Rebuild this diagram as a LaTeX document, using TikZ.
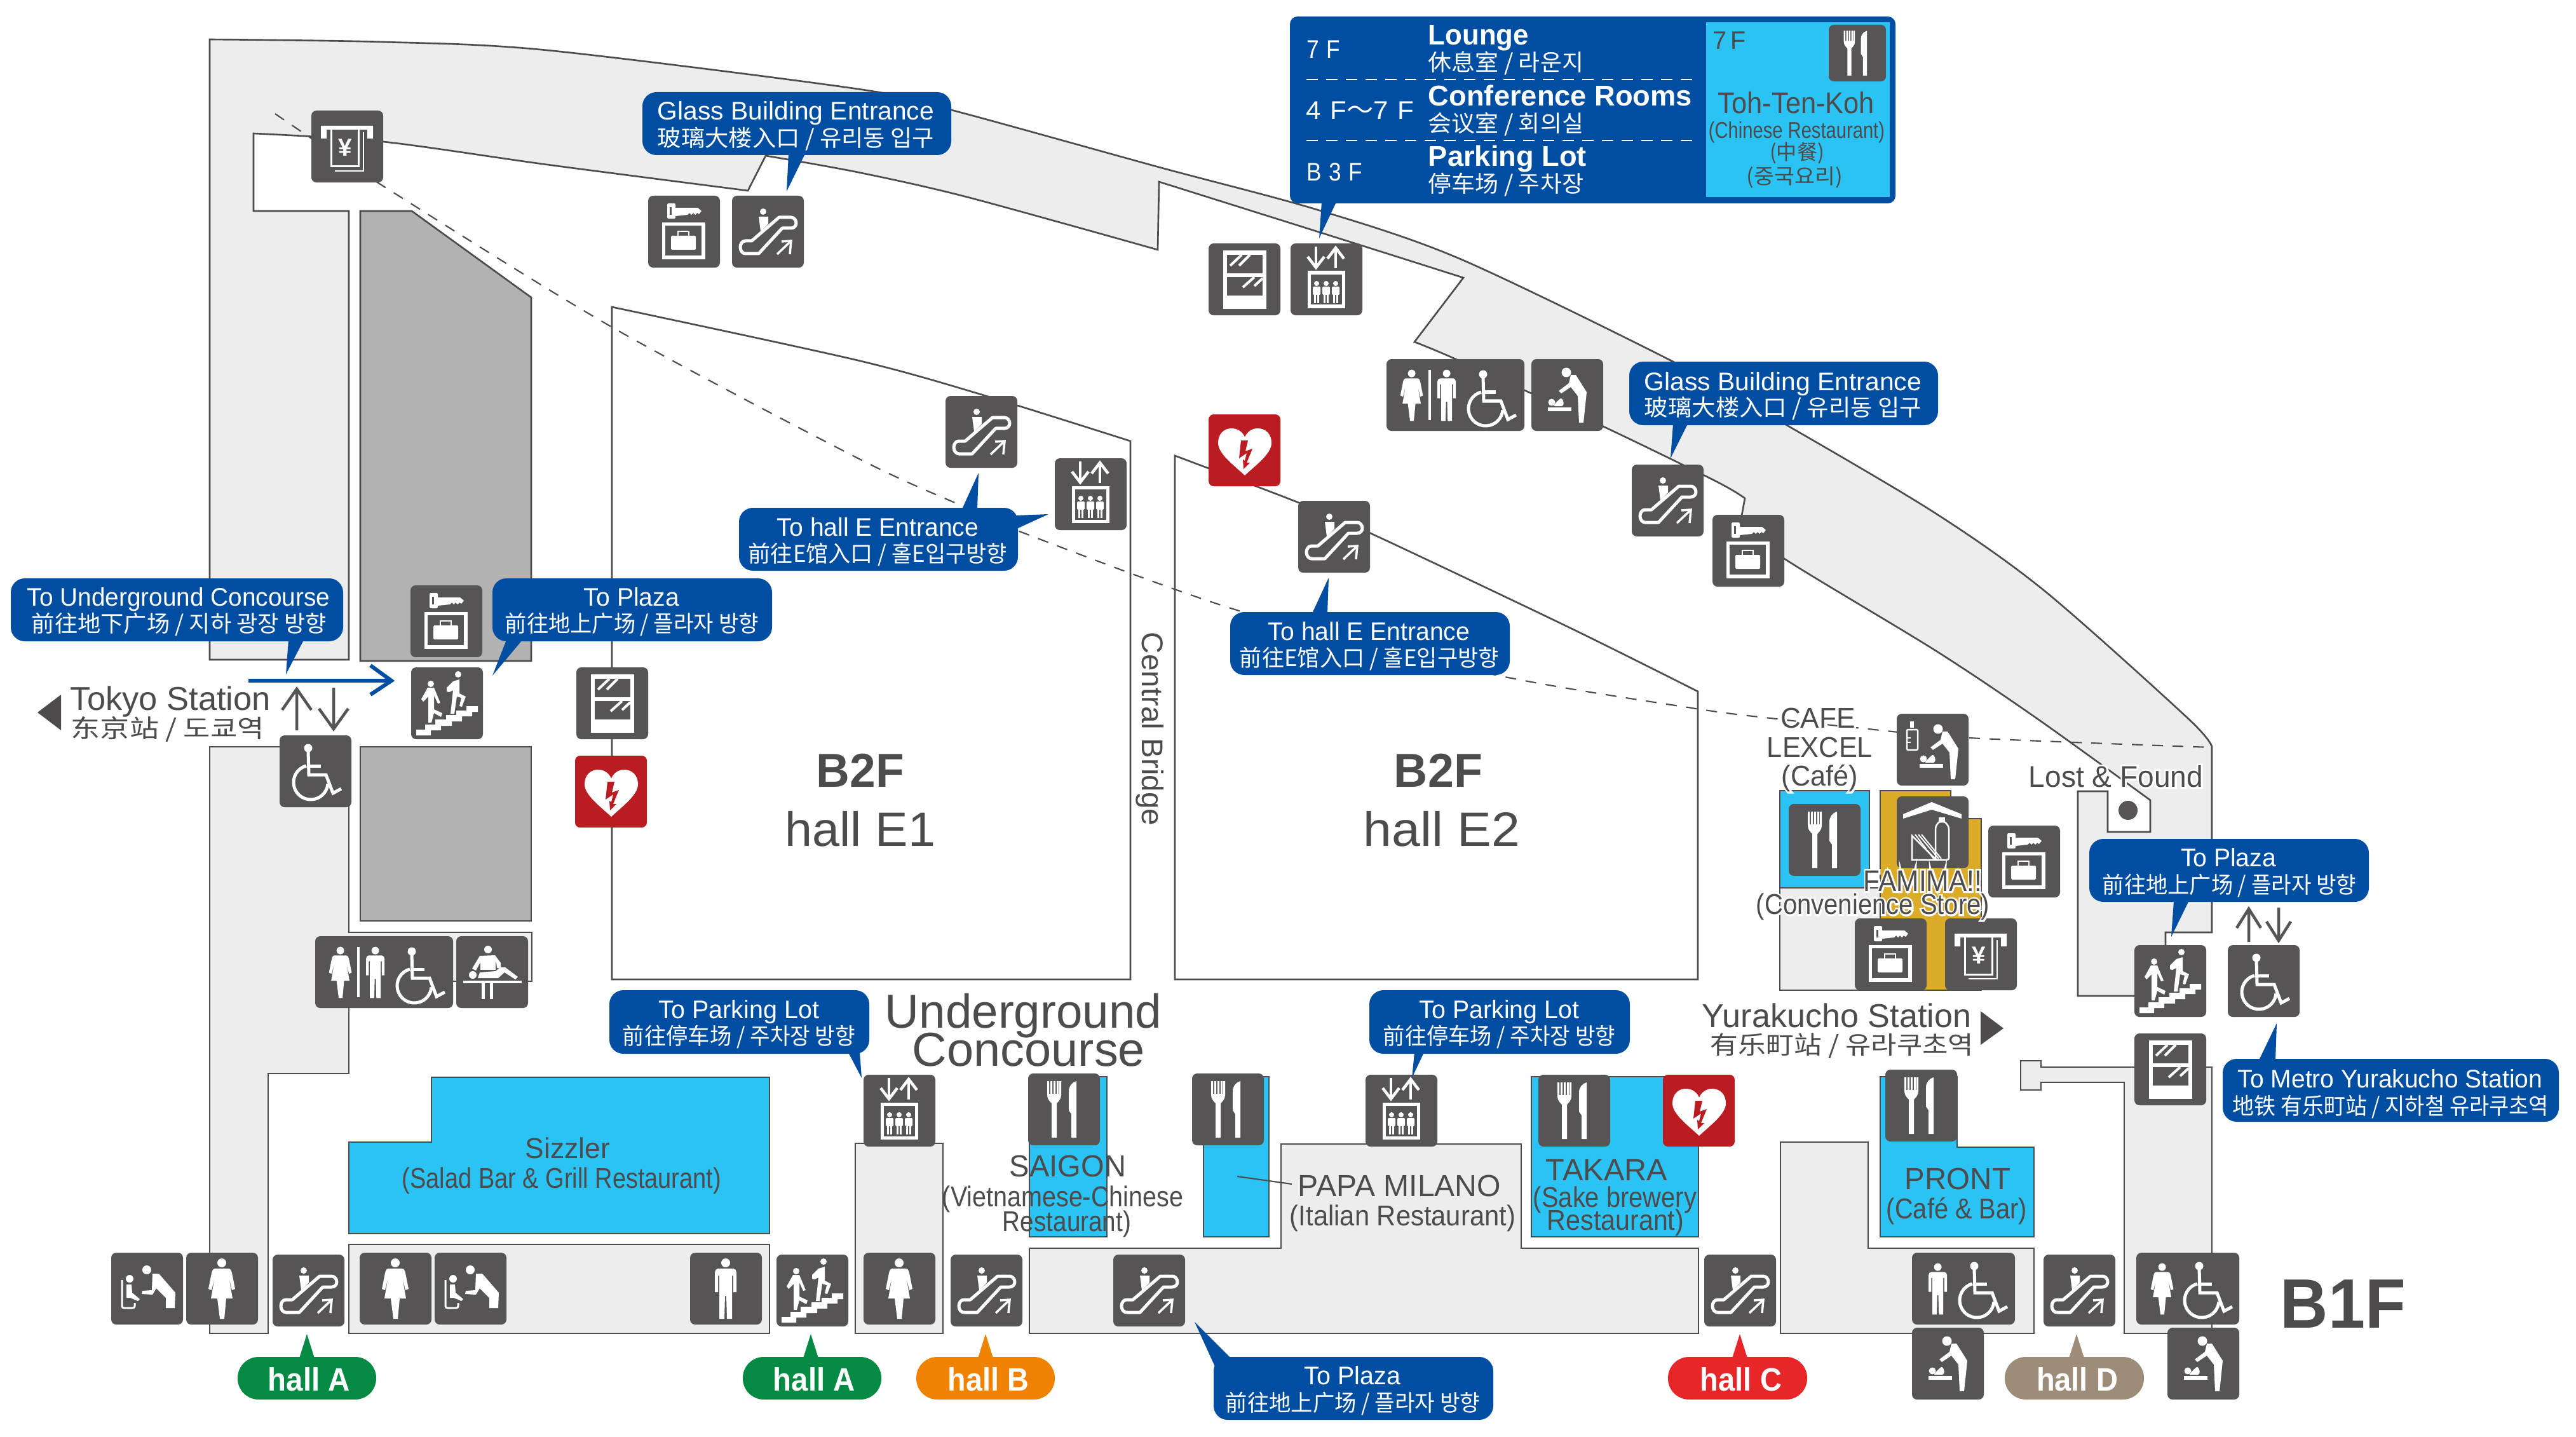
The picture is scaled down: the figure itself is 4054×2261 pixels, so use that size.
\documentclass[tikz,border=0pt]{standalone}
\usepackage{fontspec}
\usepackage{graphicx}
\setmainfont{Liberation Sans}
\newfontfamily\cjk{Noto Sans CJK SC}
\newfontfamily\halofont[FakeBold=12]{Liberation Sans}
\definecolor{ink}{HTML}{4D4B4B}
\definecolor{icn}{HTML}{565455}
\definecolor{wallfill}{HTML}{EDEDED}
\definecolor{blockfill}{HTML}{B2B2B2}
\definecolor{cyanfill}{HTML}{2BC3F4}
\definecolor{goldfill}{HTML}{DCAC28}
\definecolor{cbl}{HTML}{004EA2}
\definecolor{aedred}{HTML}{BB1C21}
\definecolor{pillA}{HTML}{058A44}
\definecolor{pillB}{HTML}{EF8200}
\definecolor{pillC}{HTML}{E8262A}
\definecolor{pillD}{HTML}{9D8D78}
\newsavebox\fitbox
\newdimen\fitd
\newcommand\fitw[3]{\pgfmathsetmacro\fsz{#2*0.28453}\sbox\fitbox{\fontsize{\fsz pt}{\fsz pt}\selectfont #3}\fitd=\wd\fitbox\pgfmathsetmacro\fitr{(#1*0.28453)/\fitd}\scalebox{\fitr}[1]{\usebox\fitbox}}
\tikzset{
 x=0.01cm,y=-0.01cm,
 lab/.style={anchor=base,inner sep=0pt,outer sep=0pt,text=ink},
 wall/.style={fill=wallfill,draw=ink,line width=0.75pt,line join=miter},
 plainwall/.style={fill=white,draw=ink,line width=0.75pt},
 blockst/.style={fill=blockfill,draw=ink,line width=0.75pt},
 shopst/.style={fill=cyanfill,draw=ink,line width=0.75pt},
 goldst/.style={fill=goldfill,draw=ink,line width=0.75pt},
 dashst/.style={draw=ink,line width=0.6pt,dash pattern=on 0.17cm off 0.15cm},
 ibox/.style={fill=icn,rounded corners=0.08cm,inner sep=0pt,outer sep=0pt,anchor=north west,minimum height=1.13cm},
 wln/.style={draw=white,line width=0.05cm},
 wth/.style={draw=white,line width=0.035cm},
 calbg/.style={fill=cbl,rounded corners=0.22cm},
 grarrow/.style={draw=icn,line width=0.045cm},
 blarrow/.style={draw=cbl,line width=0.06cm},
}
\newcommand\lab[7][]{\pgfmathsetmacro\cxx{(#3+#4)/2}\pgfmathsetmacro\byy{#5+0.37*#6}\pgfmathsetmacro\wdd{#4-#3}\node[lab,#1] (#2) at (\cxx,\byy) {\fitw{\wdd}{#6}{#7}};}
\newcommand\hlab[6]{\lab[text=white]{#1halo}{#2}{#3}{#4}{#5}{\halofont #6}\lab{#1}{#2}{#3}{#4}{#5}{#6}}
\newcommand\LA[4]{\lab[text=white]{#1}{#2}{#3}{#4}{40}}
\newcommand\LB[5]{\pgfmathsetmacro\lby{#4+1}\lab[text=white]{#1}{#2}{#3}{\lby}{36}{\cjk #5}}
\newcommand\iconbg[5]{\node[ibox,fill=#5,minimum width={(#4)*0.01cm}] (#1) at (#2,#3) {};}
% glyphs in a 113 box
\newcommand\gWoman{\fill[white] (56,16) circle[radius=0.07cm];
 \fill[white] (46,25) -- (66,25) .. controls (70,25) and (71,28) .. (72,32) -- (77,57) -- (72,59) -- (67,38) -- (73,72) -- (63,72) -- (60,104) -- (53,104) -- (49,72) -- (39,72) -- (45,38) -- (40,59) -- (35,57) -- (40,32) .. controls (41,28) and (42,25) .. (46,25) -- cycle;}
\newcommand\gMan{\fill[white] (56,16) circle[radius=0.07cm];
 \fill[white] (44,25) -- (68,25) .. controls (71,25) and (73,28) .. (73,31) -- (73,62) -- (68,62) -- (68,36) -- (66,36) -- (66,104) -- (58,104) -- (57,68) -- (55,68) -- (54,104) -- (46,104) -- (46,36) -- (44,36) -- (44,62) -- (39,62) -- (39,31) .. controls (39,28) and (41,25) .. (44,25) -- cycle;}
\newcommand\gWheel{\fill[white] (45,20) circle[radius=0.065cm];
 \draw[wln,line join=miter] (45,24) -- (46,62) -- (73,62) -- (84,91) -- (97,84);
 \draw[wln] (46,48) -- (65,48);
 \draw[wln] (49,74) ++(105:0.27cm) arc[start angle=105,end angle=355,radius=0.27cm];}
\newcommand\gEsc{\fill[white] (49,25) circle[radius=0.05cm];
 \fill[white] (42,33) -- (57,33) -- (57,44) -- (45,56) -- cycle;
 \draw[wln,line join=round] (31,71) -- (21,71) .. controls (16,71) and (13,76) .. (13,81) .. controls (13,87) and (17,91) .. (21,91) -- (42,91) -- (79,51) -- (93,51) .. controls (98,51) and (101,47) .. (101,43) .. controls (101,38) and (97,34) .. (93,34) -- (74,34) -- cycle;
 \draw[wth] (71,92) -- (93,71);
 \draw[wth] (78,72) -- (93,71) -- (91,92);}
\newcommand\gStairs{\fill[white] (8,107) -- (8,98) -- (22,98) -- (22,90) -- (38,90) -- (38,82) -- (55,82) -- (55,75) -- (71,75) -- (71,68) -- (87,68) -- (87,61) -- (105,61) -- (105,70) -- (96,70) -- (96,77) -- (80,77) -- (80,85) -- (64,85) -- (64,92) -- (47,92) -- (47,99) -- (31,99) -- (31,107) -- cycle;
 \fill[white] (31,26) circle[radius=0.05cm];
 \fill[white] (74,11) circle[radius=0.05cm];
 \fill[white] (26,32) -- (36,32) -- (46,56) -- (42,57) -- (36,44) -- (36,66) -- (49,72) -- (47,78) -- (36,72) -- (32,87) -- (27,87) -- (27,46) -- (19,54) -- (16,50) -- cycle;
 \fill[white] (66,22) -- (76,19) -- (76,41) -- (86,46) -- (80,62) -- (76,61) -- (79,48) -- (72,46) -- (68,73) -- (62,73) -- (66,36) -- (60,39) -- (56,38) -- (56,32) -- cycle;}
\newcommand\gDoor{\fill[white] (23,11) rectangle (91,103);
 \fill[icn] (29,18) rectangle (85,47);
 \fill[icn] (29,53) rectangle (85,82);
 \draw[white,line width=0.04cm] (34,35) -- (52,18) (48,35) -- (65,18) (54,69) -- (72,53) (72,67) -- (85,55);}
\newcommand\gAed{\fill[white] (57,96) .. controls (40,80) and (15,62) .. (15,45) .. controls (15,30) and (25,22) .. (36,22) .. controls (46,22) and (54,28) .. (57,36) .. controls (60,28) and (68,22) .. (77,22) .. controls (89,22) and (99,30) .. (99,45) .. controls (99,62) and (74,80) .. (57,96) -- cycle;
 \fill[aedred] (51,41) -- (62,41) -- (58,58) -- (69,54) -- (60,76) -- (65,76) -- (55,86) -- (54,71) -- (57,73) -- (60,61) -- (48,69) -- cycle;}
\newcommand\gFork{\fill[white] (30,12) -- (33,12) -- (33,32) -- (35,32) -- (35,12) -- (38,12) -- (38,32) -- (40,32) -- (40,12) -- (43,12) -- (43,32) -- (45,32) -- (45,12) -- (48,12) -- (48,32) -- (49,32) -- (49,12) -- (52,12) -- (52,34) .. controls (52,40) and (48,44) .. (45,47) -- (45,101) -- (37,101) -- (37,47) .. controls (34,44) and (30,40) .. (30,34) -- cycle;
 \fill[white] (76,12) -- (76,101) -- (68,101) -- (68,64) -- (64,58) -- (64,28) .. controls (64,20) and (69,14) .. (76,12) -- cycle;}
\newcommand\gLocker{\fill[white,rounded corners=0.02cm] (30,12) rectangle (43,36);
 \fill[icn] (33.5,18) rectangle (37,30);
 \fill[white] (43,19) -- (78,19) -- (84,24) -- (80,29) -- (77,27) -- (74,30) -- (71,27) -- (68,30) -- (65,27) -- (62,30) -- (43,32) -- cycle;
 \draw[white,line width=0.055cm] (24.5,44.5) rectangle (87,97);
 \fill[white,rounded corners=0.015cm] (36,63) rectangle (75,85);
 \draw[white,line width=0.02cm] (47,63) -- (47,56) -- (64,56) -- (64,63);}
\newcounter{gl}
\newcommand\gAtm{\fill[white] (15,24) -- (97,24) -- (97,44) -- (88,44) -- (88,30) -- (24,30) -- (24,44) -- (15,44) -- cycle;
 \draw[white,line width=0.03cm] (31,30) -- (31,88) -- (74,88) -- (74,30);
 \draw[white,line width=0.025cm] (37,95) -- (82,95) -- (82,34);
 \stepcounter{gl}\node[inner sep=0pt,text=white] (ATMyen\thegl) at (53,58) {\fontsize{11pt}{11pt}\selectfont\bfseries ¥};}
\newcommand\gBaby{\fill[white] (65,24) circle[radius=0.075cm];
 \fill[white] (72,28) -- (80,28) -- (97,55) -- (92,103) -- (85,103) -- (83,61) -- (72,47) -- (57,57) -- (53,53) -- (69,41) -- cycle;
 \fill[white] (42,71) circle[radius=0.055cm];
 \fill[white,rounded corners=0.02cm] (50,70) -- (57,64) -- (61,70) -- (60,77) -- (44,77) -- cycle;
 \fill[white] (36,79) rectangle (73,85);}
\newcommand\gBottle{\draw[white,line width=0.025cm,rounded corners=0.02cm] (16,25) rectangle (33,57);
 \fill[white] (21,12) rectangle (27,22);
 \draw[white,line width=0.02cm] (16,38) -- (22,38) (16,45) -- (22,45);}
\newcommand\gNurse{\fill[white] (56,27) circle[radius=0.07cm];
 \fill[white] (65,33) -- (75,33) -- (101,63) -- (100,87) -- (86,87) -- (86,71) -- (71,56) -- (65,66) -- (48,65) -- (49,60) -- (64,59) -- cycle;
 \fill[white] (29,41) circle[radius=0.06cm];
 \draw[white,line width=0.03cm,rounded corners=0.03cm] (17,43) -- (17,87) -- (37,87) -- (37,79);
 \fill[white] (24,50) -- (32,50) -- (33,63) -- (45,73) -- (42,76) -- (30,71) -- (24,71) -- cycle;}
\newcommand\gTable{\fill[white] (50,21) circle[radius=0.06cm];
 \fill[white] (37,31) -- (61,30) -- (70,42) -- (70,50) -- (64,50) -- (63,41) -- (38,41) -- (31,54) -- (25,51) -- cycle;
 \fill[white] (38,41) rectangle (62,53);
 \fill[white] (26,61) circle[radius=0.06cm];
 \fill[white] (34,66) -- (37,57) -- (62,55) -- (69,49) -- (77,49) -- (97,64) -- (93,68) -- (76,57) -- (66,66) -- cycle;
 \fill[white] (11,70) rectangle (103,74);
 \fill[white] (40,74) rectangle (45,99);
 \fill[white] (53,74) rectangle (58,99);}
\newcommand\gLift{\draw[white,line width=0.045cm] (40,5) -- (40,38);
 \draw[white,line width=0.045cm] (27,21) -- (40,38) -- (53,21);
 \draw[white,line width=0.045cm] (71,39) -- (71,7);
 \draw[white,line width=0.045cm] (58,24) -- (71,7) -- (84,24);
 \draw[white,line width=0.05cm] (29,46) rectangle (83,99);
 \foreach \hx in {41,56,71}{\fill[white] (\hx,63) circle[radius=0.04cm];
  \fill[white,rounded corners=0.015cm] (\hx-6,68) rectangle (\hx+6,81);
  \fill[white] (\hx-4,80) rectangle (\hx-1,94);
  \fill[white] (\hx+1,80) rectangle (\hx+4,94);}}
\newcommand\gConv{\fill[white] (10,28) -- (55,9) -- (102,28) -- (102,35) -- (55,21) -- (10,35) -- cycle;
 \draw[white,line width=0.025cm,rounded corners=0.03cm] (61,48) -- (66,40) -- (76,40) -- (82,48) -- (82,100) -- (61,100) -- cycle;
 \fill[white] (66,33) rectangle (76,41);
 \draw[white,line width=0.025cm] (24,62) -- (24,100) -- (62,100) -- cycle;
 \draw[white,line width=0.02cm] (29,60) -- (58,98) (34,60) -- (66,98) (39,60) -- (70,98);}
% icons
\newcommand\iEsc[3]{\iconbg{#1}{#2}{#3}{113}{icn}\begin{scope}[shift={(#2,#3)}]\gEsc\end{scope}}
\newcommand\iLocker[3]{\iconbg{#1}{#2}{#3}{113}{icn}\begin{scope}[shift={(#2,#3)}]\gLocker\end{scope}}
\newcommand\iAtm[3]{\iconbg{#1}{#2}{#3}{113}{icn}\begin{scope}[shift={(#2,#3)}]\gAtm\end{scope}}
\newcommand\iStairs[3]{\iconbg{#1}{#2}{#3}{113}{icn}\begin{scope}[shift={(#2,#3)}]\gStairs\end{scope}}
\newcommand\iDoor[3]{\iconbg{#1}{#2}{#3}{113}{icn}\begin{scope}[shift={(#2,#3)}]\gDoor\end{scope}}
\newcommand\iAed[3]{\iconbg{#1}{#2}{#3}{113}{aedred}\begin{scope}[shift={(#2,#3)}]\gAed\end{scope}}
\newcommand\iFork[3]{\iconbg{#1}{#2}{#3}{113}{icn}\begin{scope}[shift={(#2,#3)}]\gFork\end{scope}}
\newcommand\iLift[3]{\iconbg{#1}{#2}{#3}{113}{icn}\begin{scope}[shift={(#2,#3)}]\gLift\end{scope}}
\newcommand\iWheel[3]{\iconbg{#1}{#2}{#3}{113}{icn}\begin{scope}[shift={(#2,#3)}]\gWheel\end{scope}}
\newcommand\iWoman[3]{\iconbg{#1}{#2}{#3}{113}{icn}\begin{scope}[shift={(#2,#3)}]\gWoman\end{scope}}
\newcommand\iMan[3]{\iconbg{#1}{#2}{#3}{113}{icn}\begin{scope}[shift={(#2,#3)}]\gMan\end{scope}}
\newcommand\iNurse[3]{\iconbg{#1}{#2}{#3}{113}{icn}\begin{scope}[shift={(#2,#3)}]\gNurse\end{scope}}
\newcommand\iBaby[3]{\iconbg{#1}{#2}{#3}{113}{icn}\begin{scope}[shift={(#2-10,#3-3)}]\gBaby\end{scope}}
\newcommand\iBottle[3]{\iconbg{#1}{#2}{#3}{113}{icn}\begin{scope}[shift={(#2,#3)}]\gBaby\gBottle\end{scope}}
\newcommand\iTable[3]{\iconbg{#1}{#2}{#3}{113}{icn}\begin{scope}[shift={(#2,#3)}]\gTable\end{scope}}
\newcommand\iConv[3]{\iconbg{#1}{#2}{#3}{113}{icn}\begin{scope}[shift={(#2,#3)}]\gConv\end{scope}}
\newcommand\iRest[3]{\iconbg{#1}{#2}{#3}{217}{icn}\begin{scope}[shift={(#2,#3)}]
 \begin{scope}[shift={(-8,9)},scale=0.85]\gWoman\end{scope}
 \fill[white] (66,17) rectangle (70,96);
 \begin{scope}[shift={(47,9)},scale=0.85]\gMan\end{scope}
 \begin{scope}[shift={(107,4)}]\gWheel\end{scope}\end{scope}}
\newcommand\iManW[3]{\iconbg{#1}{#2}{#3}{162}{icn}\begin{scope}[shift={(#2,#3)}]
 \begin{scope}[shift={(-7,9)},scale=0.85]\gMan\end{scope}
 \begin{scope}[shift={(53,1)}]\gWheel\end{scope}\end{scope}}
\newcommand\iWomanW[3]{\iconbg{#1}{#2}{#3}{162}{icn}\begin{scope}[shift={(#2,#3)}]
 \begin{scope}[shift={(-7,9)},scale=0.85]\gWoman\end{scope}
 \begin{scope}[shift={(54,1)}]\gWheel\end{scope}\end{scope}}
\newcommand\pill[8]{\fill[#2,rounded corners=0.33cm] (#3,2135) rectangle (#4,2202);
 \fill[#2] (#5-12,2137) -- (#5,2099) -- (#5+12,2137) -- cycle;
 \lab[text=white]{#1}{#6}{#7}{2170}{51}{\bfseries #8}}
\begin{document}
\begin{tikzpicture}
\useasboundingbox (0,0) rectangle (4054,2261);
\fill[white] (0,0) rectangle (4054,2261);
% halls
\draw[plainwall] (963,483) -- plot[smooth,tension=0.5] coordinates {(963,483)(1350,567)(1552,623)(1779,694)} -- (1779,1541) -- (963,1541) -- cycle;
\draw[plainwall] (1849,717) -- plot[smooth,tension=0.5] coordinates {(1849,717)(2039,789)(2159,840)(2469,987)(2672,1088)} -- (2672,1541) -- (1849,1541) -- cycle;
% upper corridor
\path[wall] (330,62) -- plot[smooth,tension=0.5] coordinates {(330,62)(603,66)(861,79)(1350,140)(1497,173)(1824,263)(2073,330)(2297,407)(2633,569)(2812,669)(3045,807)(3218,930)(3443,1130)(3481,1175)}
 -- (3481,1467) -- (3408,1467) -- (3408,1567) -- (3270,1567) -- (3270,1245) -- (3317,1245) -- (3317,1309) -- (3384,1309) -- (3384,1259)
 -- plot[smooth,tension=0.5] coordinates {(3384,1259)(3205,1130)(3045,1023)(2808,879)(2739,822)}
 -- (2746,784) -- plot[smooth,tension=0.5] coordinates {(2746,784)(2700,757)(2521,670)(2293,566)(2226,538)}
 -- (2303,437) -- plot[smooth,tension=0.5] coordinates {(2303,437)(2142,386)(1824,286)}
 -- (1822,393) -- plot[smooth,tension=0.5] coordinates {(1822,393)(1522,310)(1350,271)(1205,245)}
 -- (1177,300) -- plot[smooth,tension=0.5] coordinates {(1177,300)(861,259)(603,223)(399,210)}
 -- (399,332) -- (549,332) -- (549,1038) -- (330,1038) -- cycle;
% lower-left corridor
\path[wall] (330,1175) -- (549,1175) -- (549,1467) -- (837,1467) -- (837,1544) -- (549,1544) -- (549,1689) -- (422,1689) -- (422,2098) -- (330,2098) -- cycle;
% grey blocks
\path[blockst] (567,332) -- (648,332) -- (836,468) -- (836,1040) -- (567,1040) -- cycle;
\path[blockst] (567,1175) rectangle (836,1449);
% shops and corridors at the bottom
\path[shopst] (679,1695) -- (1211,1695) -- (1211,1941) -- (549,1941) -- (549,1797) -- (679,1797) -- cycle;
\path[wall] (549,1958) rectangle (1211,2098);
\path[wall] (1346,1799) rectangle (1484,2098);
\path[wall] (1620,1964) -- (2016,1964) -- (2016,1800) -- (2394,1800) -- (2394,1964) -- (2673,1964) -- (2673,2098) -- (1620,2098) -- cycle;
\path[shopst] (1620,1694) rectangle (1742,1946);
\path[shopst] (1894,1694) rectangle (1997,1946);
\path[shopst] (2410,1694) rectangle (2673,1946);
\path[wall] (2802,1797) -- (2940,1797) -- (2940,1964) -- (3201,1964) -- (3201,2098) -- (2802,2098) -- cycle;
\path[shopst] (2959,1694) -- (3080,1694) -- (3080,1805) -- (3201,1805) -- (3201,1946) -- (2959,1946) -- cycle;
\path[wall] (3180,1669) -- (3212,1669) -- (3212,1679) -- (3481,1679) -- (3481,2098) -- (3343,2098) -- (3343,1703) -- (3212,1703) -- (3212,1715) -- (3180,1715) -- cycle;
% cafe block
\path[wall] (2801,1397) -- (2959,1397) -- (2959,1558) -- (2801,1558) -- cycle;
\path[goldst] (2959,1244) -- (3070,1244) -- (3070,1288) -- (3118,1288) -- (3118,1558) -- (2959,1558) -- cycle;
\path[shopst] (2801,1244) rectangle (2942,1397);
% dashed line
\path[dashst] plot[smooth,tension=0.5] coordinates {(433,179)(486,215)(605,294)(960,513)(1350,721)(1514,796)(1604,836)(1953,962)(2349,1061)(2669,1115)(2795,1131)(2921,1145)(3099,1161)(3481,1176)};
% papa leader
\coordinate (papaFrom) at (1947,1851);
\coordinate (papaTo) at (2033,1863);
\draw[ink,line width=0.6pt] (papaFrom) -- (papaTo);
% station arrows
\fill[ink] (59,1121) -- (96,1093) -- (96,1149) -- cycle;
\fill[ink] (3117,1591) -- (3117,1644) -- (3153,1618) -- cycle;
\coordinate (bluA) at (391,1071); \coordinate (bluB) at (616,1071);
\coordinate (bluC) at (583,1047); \coordinate (bluD) at (583,1093);
\draw[blarrow] (bluA) -- (bluB);
\draw[blarrow] (bluC) -- (bluB) -- (bluD);
\coordinate (upA) at (467,1149); \coordinate (upB) at (467,1084);
\coordinate (upC) at (444,1117); \coordinate (upD) at (490,1117);
\draw[grarrow] (upA) -- (upB) (upC) -- (upB) -- (upD);
\coordinate (dnA) at (525,1082); \coordinate (dnB) at (525,1147);
\coordinate (dnC) at (502,1115); \coordinate (dnD) at (548,1115);
\draw[grarrow] (dnA) -- (dnB) (dnC) -- (dnB) -- (dnD);
\coordinate (up2A) at (3539,1482); \coordinate (up2B) at (3539,1430);
\coordinate (up2C) at (3520,1460); \coordinate (up2D) at (3558,1460);
\draw[grarrow] (up2A) -- (up2B) (up2C) -- (up2B) -- (up2D);
\coordinate (dn2A) at (3586,1428); \coordinate (dn2B) at (3586,1480);
\coordinate (dn2C) at (3567,1450); \coordinate (dn2D) at (3605,1450);
\draw[grarrow] (dn2A) -- (dn2B) (dn2C) -- (dn2B) -- (dn2D);
% icons
\iAtm{atmA}{490}{174}
\iLocker{lockA}{1020}{308}
\iEsc{escA}{1152}{308}
\iLocker{lockB}{646}{921}
\iStairs{stairA}{647}{1050}
\iDoor{doorA}{907}{1050}
\iAed{aedA}{905}{1189}
\iWheel{wheelA}{440}{1157}
\iRest{restA}{496}{1473}
\iTable{tableA}{718}{1473}
\iNurse{nurseA}{175}{1971}
\iWoman{womanA}{293}{1971}
\iEsc{escB}{429}{1974}
\iWoman{womanB}{566}{1971}
\iNurse{nurseB}{684}{1971}
\iMan{manA}{1086}{1971}
\iStairs{stairB}{1222}{1974}
\iLift{liftA}{1359}{1691}
\iWoman{womanC}{1359}{1971}
\iEsc{escC}{1496}{1974}
\iFork{forkA}{1618}{1689}
\iFork{forkB}{1876}{1689}
\iLift{liftB}{2149}{1691}
\iFork{forkC}{2421}{1691}
\iAed{aedB}{2617}{1691}
\iEsc{escD}{1752}{1974}
\iEsc{escE}{2682}{1974}
\iManW{manW}{3009}{1971}
\iBaby{babyA}{3009}{2089}
\iEsc{escF}{3216}{1974}
\iWomanW{womanW}{3362}{1971}
\iBaby{babyB}{3411}{2089}
\iFork{forkD}{2967}{1683}
\iStairs{stairC}{3359}{1487}
\iWheel{wheelB}{3506}{1487}
\iDoor{doorB}{3359}{1626}
\iLocker{lockC}{3129}{1299}
\iLocker{lockD}{2919}{1445}
\iAtm{atmB}{3061}{1445}
\iFork{forkE}{2815}{1265}
\iConv{convA}{2985}{1253}
\iBottle{babyC}{2985}{1123}
\iDoor{doorC}{1902}{383}
\iLift{liftC}{2031}{383}
\iRest{restB}{2182}{565}
\iBaby{babyD}{2410}{565}
\iEsc{escG}{2568}{731}
\iLocker{lockE}{2695}{810}
\iEsc{escH}{1488}{623}
\iLift{liftD}{1660}{721}
\iAed{aedC}{1902}{652}
\iEsc{escI}{2043}{788}
\fill[icn] (3349,1275) circle[radius=0.15cm];
% callouts
\fill[calbg] (1011,145) rectangle (1497,244);
\fill[cbl] (1241,242) -- (1238,301) -- (1267,242) -- cycle;
\LA{cGa}{1035}{1470}{174}{Glass Building Entrance}
\LB{cGb}{1035}{1470}{216}{玻璃大楼入口 / 유리동 입구}
\fill[calbg] (2564,569) rectangle (3050,669);
\fill[cbl] (2633,667) -- (2629,721) -- (2656,667) -- cycle;
\LA{cHa}{2588}{3024}{600}{Glass Building Entrance}
\LB{cHb}{2588}{3024}{640}{玻璃大楼入口 / 유리동 입구}
\fill[calbg] (1163,799) rectangle (1602,898);
\fill[cbl] (1514,801) -- (1540,744) -- (1538,801) -- cycle;
\fill[cbl] (1600,811) -- (1650,809) -- (1600,832) -- cycle;
\LA{cIa}{1223}{1540}{829}{To hall E Entrance}
\LB{cIb}{1178}{1585}{870}{前往E馆入口 / 홀E입구방향}
\fill[calbg] (1936,963) rectangle (2376,1062);
\fill[cbl] (2065,965) -- (2091,909) -- (2089,965) -- cycle;
\LA{cJa}{1996}{2313}{993}{To hall E Entrance}
\LB{cJb}{1951}{2359}{1034}{前往E馆入口 / 홀E입구방향}
\fill[calbg] (17,910) rectangle (540,1009);
\fill[cbl] (454,1007) -- (450,1061) -- (478,1007) -- cycle;
\LA{cKa}{43}{519}{939}{To Underground Concourse}
\LB{cKb}{50}{514}{980}{前往地下广场 / 지하 광장 방향}
\fill[calbg] (775,910) rectangle (1215,1009);
\fill[cbl] (797,1007) -- (775,1063) -- (822,1007) -- cycle;
\LA{cLa}{919}{1069}{939}{To Plaza}
\LB{cLb}{795}{1194}{980}{前往地上广场 / 플라자 방향}
\fill[calbg] (959,1558) rectangle (1368,1658);
\fill[cbl] (1335,1656) -- (1356,1696) -- (1353,1656) -- cycle;
\LA{cMa}{1037}{1289}{1588}{To Parking Lot}
\LB{cMb}{980}{1346}{1629}{前往停车场 / 주차장 방향}
\fill[calbg] (2155,1558) rectangle (2565,1658);
\fill[cbl] (2226,1656) -- (2222,1696) -- (2241,1656) -- cycle;
\LA{cNa}{2234}{2485}{1588}{To Parking Lot}
\LB{cNb}{2177}{2542}{1629}{前往停车场 / 주차장 방향}
\fill[calbg] (1910,2135) rectangle (2350,2234);
\fill[cbl] (1912,2150) -- (1880,2080) -- (1937,2137) -- cycle;
\LA{cOa}{2053}{2204}{2164}{To Plaza}
\LB{cOb}{1929}{2329}{2206}{前往地上广场 / 플라자 방향}
\fill[calbg] (3288,1320) rectangle (3728,1419);
\fill[cbl] (3421,1417) -- (3417,1474) -- (3445,1417) -- cycle;
\LA{cPa}{3432}{3582}{1349}{To Plaza}
\LB{cPb}{3309}{3708}{1391}{前往地上广场 / 플라자 방향}
\fill[calbg] (3498,1666) rectangle (4027,1765);
\fill[cbl] (3555,1668) -- (3583,1610) -- (3581,1668) -- cycle;
\LA{cQa}{3522}{4001}{1697}{To Metro Yurakucho Station}
\LB{cQb}{3514}{4011}{1739}{地铁 有乐町站 / 지하철 유라쿠초역}
% top panel
\fill[cbl,rounded corners=0.12cm] (2030,26) rectangle (2983,320);
\fill[cbl] (2080,318) -- (2076,375) -- (2103,318) -- cycle;
\fill[cyanfill] (2685,35) rectangle (2974,310);
\draw[white,line width=0.6pt,dash pattern=on 0.18cm off 0.13cm] (2056,125) -- (2665,125);
\draw[white,line width=0.6pt,dash pattern=on 0.18cm off 0.13cm] (2056,221) -- (2665,221);
\lab[text=white]{pF}{2056}{2109}{77}{40}{7\,\,F}
\lab[text=white]{pG}{2056}{2225}{173}{40}{4\,\,F{\cjk ～}7\,\,F}
\lab[text=white]{pH}{2056}{2144}{270}{40}{B\,\,3\,\,F}
\lab[text=white]{pI}{2248}{2406}{54}{45}{\bfseries Lounge}
\LB{pJ}{2248}{2492}{97}{休息室 / 라운지}
\lab[text=white]{pK}{2248}{2663}{150}{45}{\bfseries Conference Rooms}
\LB{pL}{2248}{2492}{193}{会议室 / 회의실}
\lab[text=white]{pM}{2248}{2497}{245}{45}{\bfseries Parking Lot}
\LB{pN}{2248}{2492}{288}{停车场 / 주차장}
\lab{pO}{2695}{2748}{63}{40}{7\,F}
\node[ibox,minimum width=0.9cm,minimum height=0.89cm] (forkP) at (2878,39) {};
\begin{scope}[shift={(2878,39)},scale=0.79]\gFork\end{scope}
\lab{pP}{2704}{2950}{161}{47}{Toh-Ten-Koh}
\lab{pQ}{2689}{2966}{204}{36}{(Chinese Restaurant)}
\lab{pR}{2785}{2871}{239}{33}{\cjk (中餐)}
\lab{pS}{2749}{2900}{277}{33}{\cjk (중국요리)}
% pills
\pill{hA}{pillA}{374}{592}{483}{422}{551}{hall A}
\pill{hB}{pillA}{1169}{1387}{1276}{1217}{1346}{hall A}
\pill{hC}{pillB}{1442}{1660}{1551}{1492}{1619}{hall B}
\pill{hD}{pillC}{2625}{2844}{2738}{2676}{2804}{hall C}
\pill{hE}{pillD}{3155}{3374}{3268}{3205}{3333}{hall D}
% plain labels
\lab{tB2a}{1285}{1423}{1211}{75}{\bfseries B2F}
\lab{tE1}{1236}{1472}{1303}{76}{hall E1}
\lab{tB2b}{2194}{2333}{1211}{75}{\bfseries B2F}
\lab{tE2}{2146}{2392}{1303}{76}{hall E2}
\node[lab,rotate=-90] (tBridge) at (1797,1147) {\fitw{304}{47}{Central Bridge}};
\lab{tUa}{1393}{1828}{1590}{75}{Underground}
\lab{tUb}{1436}{1802}{1650}{75}{Concourse}
\lab{tTa}{111}{426}{1098}{52}{Tokyo Station}
\lab{tTb}{112}{416}{1146}{39}{\cjk 东京站 / 도쿄역}
\lab{tYa}{2679}{3102}{1597}{52}{Yurakucho Station}
\lab{tYb}{2692}{3106}{1644}{39}{\cjk 有乐町站 / 유라쿠초역}
\lab{sSa}{827}{960}{1806}{45}{Sizzler}
\lab{sSb}{633}{1135}{1853}{45}{(Salad Bar \& Grill Restaurant)}
\lab{sVa}{1589}{1772}{1834}{48}{SAIGON}
\lab{sVb}{1483}{1862}{1882}{45}{(Vietnamese-Chinese}
\lab{sVc}{1578}{1780}{1921}{45}{Restaurant)}
\lab{sPa}{2043}{2362}{1865}{48}{PAPA MILANO}
\lab{sPb}{2030}{2385}{1912}{45}{(Italian Restaurant)}
\lab{sTa}{2433}{2624}{1840}{48}{TAKARA}
\lab{sTb}{2413}{2670}{1883}{45}{(Sake brewery}
\lab{sTc}{2435}{2650}{1919}{45}{Restaurant)}
\lab{sRa}{2998}{3164}{1854}{48}{PRONT}
\lab{sRb}{2969}{3190}{1901}{45}{(Café \& Bar)}
\hlab{sCa}{2802}{2920}{1129}{45}{CAFE}
\hlab{sCb}{2781}{2947}{1175}{45}{LEXCEL}
\hlab{sCc}{2804}{2924}{1220}{45}{(Café)}
\hlab{sFa}{2933}{3119}{1385}{47}{FAMIMA!!}
\hlab{sFb}{2764}{3131}{1422}{45}{(Convenience Store)}
\hlab{tLost}{3193}{3467}{1221}{47}{Lost \& Found}
\lab{tB1}{3589}{3786}{2049}{110}{\bfseries B1F}
\end{tikzpicture}
\end{document}
